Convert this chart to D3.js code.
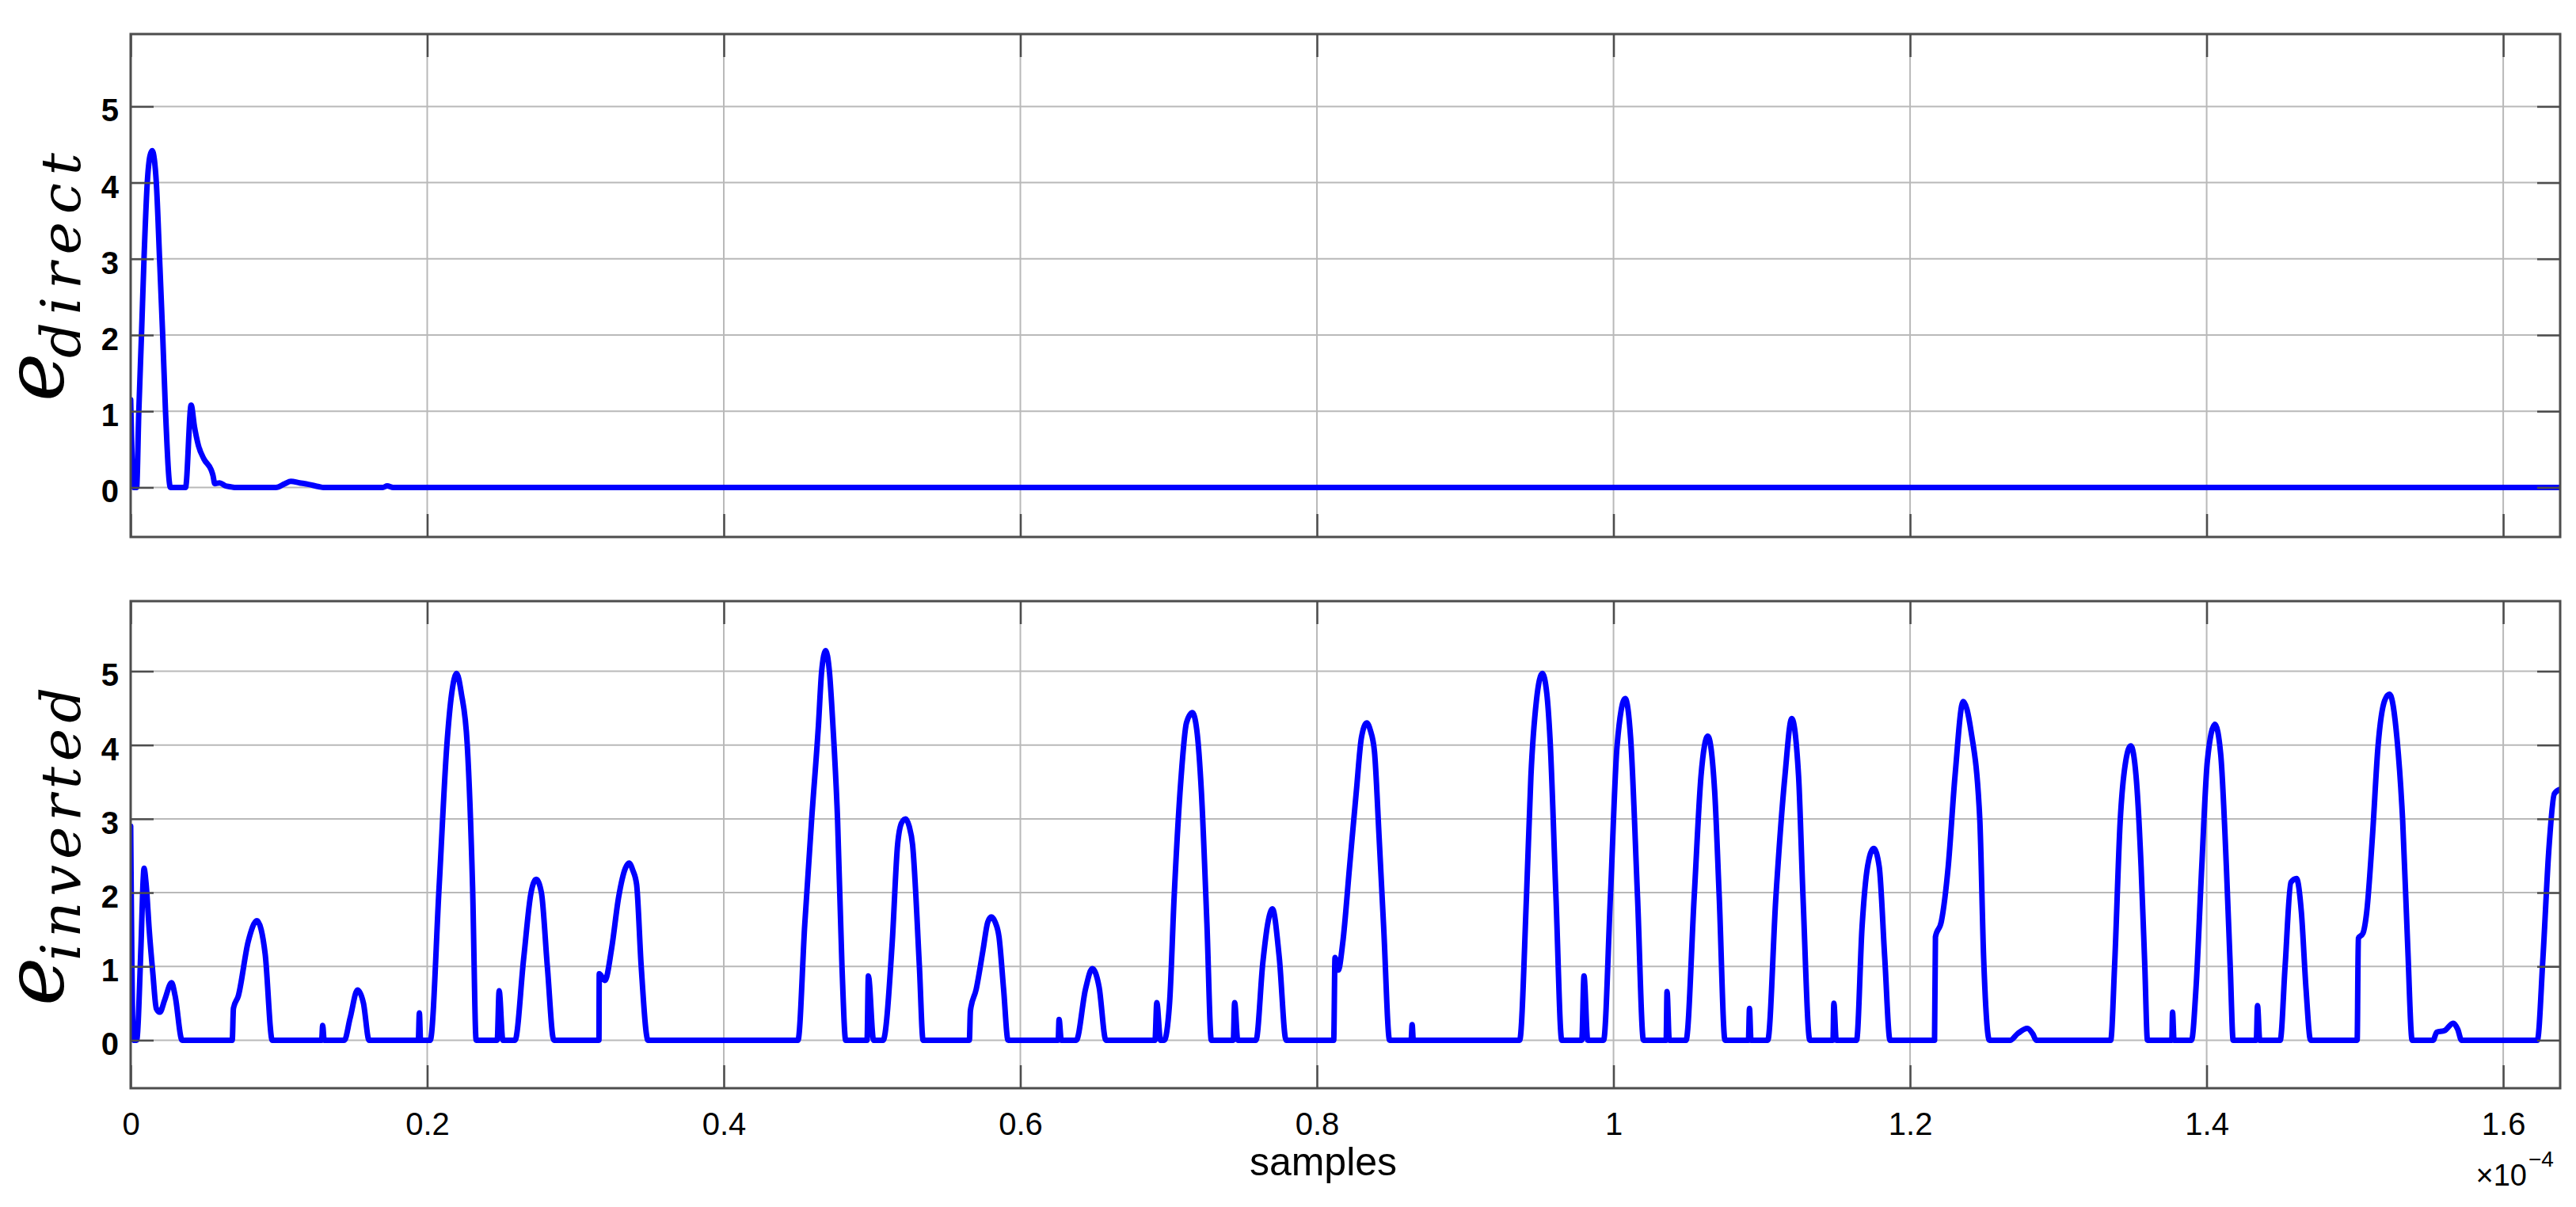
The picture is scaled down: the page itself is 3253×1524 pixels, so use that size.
<!DOCTYPE html>
<html>
<head>
<meta charset="utf-8">
<script src="https://cdn.jsdelivr.net/npm/d3@7"></script>
<style>
  html, body { margin: 0; padding: 0; background: #fff; }
  svg { display: block; }
  .tick text { font-family: "Liberation Sans", Arial, sans-serif; fill: #000; }
</style>
</head>
<body>
<div id="container"></div>
<script>
'use strict';

// x in units of 1e-4 samples
var xTicks = [0, 0.2, 0.4, 0.6, 0.8, 1.0, 1.2, 1.4, 1.6];
var xTickLabels = ['0', '0.2', '0.4', '0.6', '0.8', '1', '1.2', '1.4', '1.6'];
var yTicks = [0, 1, 2, 3, 4, 5];
var yTickLabels = ['0', '1', '2', '3', '4', '5'];

var directX = [0, 0.002, 0.004, 0.0055, 0.0073, 0.009, 0.0112, 0.013, 0.0145, 0.016, 0.0173, 0.0195, 0.0216, 0.0235, 0.0268,
  0.037, 0.0408, 0.043, 0.0457, 0.0495, 0.0543, 0.0555, 0.0567, 0.06, 0.064, 0.067, 0.07,
  0.098, 0.104, 0.108, 0.114, 0.12, 0.127, 0.13, 0.17, 0.173, 0.177, 1.6384];
var directY = [1.15, 0, 0, 1.0, 2.0, 3.0, 4.0, 4.35, 4.42, 4.3, 4.0, 3.0, 2.0, 1.0, 0,
  0, 1.08, 0.8, 0.55, 0.37, 0.23, 0.16, 0.05, 0.06, 0.02, 0.01, 0,
  0, 0.05, 0.08, 0.06, 0.04, 0.01, 0, 0, 0.02, 0, 0];

var invertedX = [0, 0.0018, 0.004, 0.007, 0.0085, 0.009, 0.0105, 0.0125, 0.015, 0.0173, 0.0197, 0.023, 0.0276, 0.03, 0.0347,
  0.0685, 0.0693, 0.0726, 0.0793, 0.0852, 0.088, 0.0907, 0.0955,
  0.1288, 0.1295, 0.1305, 0.1441, 0.148, 0.153, 0.157, 0.1608,
  0.194, 0.1947, 0.1955, 0.202, 0.208, 0.2132, 0.2165, 0.2198, 0.223, 0.227, 0.2306, 0.233,
  0.2472, 0.2485, 0.251, 0.2592, 0.265, 0.27, 0.2735, 0.277, 0.281, 0.2854,
  0.3158, 0.316, 0.3198, 0.3244, 0.329, 0.3336, 0.3361, 0.3387, 0.3412, 0.3443, 0.3489,
  0.45, 0.4546, 0.4592, 0.4638, 0.466, 0.4687, 0.4712, 0.4736, 0.4767, 0.4797, 0.4822,
  0.4966, 0.4975, 0.501, 0.5074, 0.5135, 0.5172, 0.52, 0.5227, 0.525, 0.5273, 0.5319, 0.5344,
  0.5656, 0.5663, 0.5702, 0.5748, 0.578, 0.5804, 0.583, 0.5856, 0.5887, 0.5917,
  0.6255, 0.6261, 0.6276, 0.6377, 0.6439, 0.6485, 0.6531, 0.6577,
  0.6908, 0.692, 0.6945, 0.697, 0.7006, 0.7037, 0.7083, 0.712, 0.716, 0.719, 0.7221, 0.7258, 0.7288,
  0.7436, 0.7445, 0.7466, 0.7589, 0.7635, 0.767, 0.77, 0.7746, 0.7792,
  0.8113, 0.8122, 0.8144, 0.8174, 0.822, 0.8266, 0.83, 0.8336, 0.836, 0.8388, 0.8419, 0.845, 0.849,
  0.8635, 0.8642, 0.865, 0.9367, 0.9413, 0.9443, 0.948, 0.952, 0.955, 0.9572, 0.9612, 0.9651,
  0.9786, 0.9801, 0.9826, 0.9933, 0.9979, 1.0024, 1.0079, 1.0116, 1.0162, 1.0202,
  1.0355, 1.0361, 1.0376, 1.0489, 1.0544, 1.059, 1.0636, 1.0682, 1.0713, 1.0752,
  1.091, 1.0917, 1.0927, 1.104, 1.1095, 1.1156, 1.1202, 1.1248, 1.1278, 1.1324,
  1.148, 1.1486, 1.1502, 1.1639, 1.1676, 1.1713, 1.1755, 1.1792, 1.1829, 1.1865,
  1.2165, 1.2171, 1.2211, 1.2257, 1.2303, 1.2358, 1.241, 1.247, 1.2496, 1.2535,
  1.2675, 1.2726, 1.279, 1.2829, 1.285,
  1.3353, 1.3379, 1.3417, 1.3455, 1.3488, 1.3524, 1.3558, 1.3583, 1.3601,
  1.3765, 1.377, 1.378, 1.3898, 1.3928, 1.3967, 1.4005, 1.4056, 1.4095, 1.4133, 1.4159, 1.4179,
  1.4335, 1.4343, 1.4358, 1.4496, 1.4529, 1.4568, 1.4606, 1.4639, 1.467, 1.4701,
  1.5015, 1.5023, 1.5054, 1.5079, 1.5118, 1.5156, 1.52, 1.5233, 1.5284, 1.5322, 1.5355, 1.5386,
  1.5527, 1.5552, 1.5604, 1.5662, 1.5693, 1.5719,
  1.623, 1.6268, 1.6307, 1.6345, 1.6384];
var invertedY = [2.9, 0, 0, 1.3, 2.2, 2.33, 2.1, 1.5, 0.9, 0.43, 0.38, 0.55, 0.78, 0.6, 0,
  0, 0.43, 0.6, 1.34, 1.62, 1.5, 1.17, 0,
  0, 0.2, 0, 0, 0.3, 0.68, 0.5, 0,
  0, 0.37, 0, 0, 2.07, 3.99, 4.7, 4.97, 4.7, 4.0, 2.07, 0,
  0, 0.67, 0, 0, 1.1, 2.0, 2.18, 2.0, 1.0, 0,
  0, 0.9, 0.81, 1.25, 1.93, 2.33, 2.4, 2.3, 2.11, 1.0, 0,
  0, 1.57, 2.98, 4.26, 5.0, 5.28, 5.0, 4.26, 3.0, 1.0, 0,
  0, 0.87, 0, 0, 1.3, 2.65, 2.95, 3.0, 2.9, 2.65, 1.0, 0,
  0, 0.4, 0.69, 1.22, 1.6, 1.67, 1.6, 1.4, 0.69, 0,
  0, 0.28, 0, 0, 0.69, 0.97, 0.72, 0,
  0, 0.51, 0, 0, 0.5, 1.94, 3.54, 4.3, 4.44, 4.2, 3.36, 1.58, 0,
  0, 0.51, 0, 0, 1.05, 1.6, 1.78, 1.12, 0,
  0, 1.12, 0.95, 1.32, 2.35, 3.38, 4.1, 4.3, 4.2, 3.91, 2.76, 1.53, 0,
  0, 0.21, 0, 0, 1.94, 3.58, 4.6, 4.97, 4.7, 4.08, 1.94, 0,
  0, 0.87, 0, 0, 1.94, 3.99, 4.63, 4.08, 1.94, 0,
  0, 0.66, 0, 0, 1.94, 3.58, 4.12, 3.38, 1.94, 0,
  0, 0.43, 0, 0, 1.94, 3.58, 4.36, 3.58, 1.94, 0,
  0, 0.5, 0, 0, 1.53, 2.35, 2.6, 2.35, 1.12, 0,
  0, 1.4, 1.61, 2.35, 3.58, 4.59, 4.2, 3.0, 1.12, 0,
  0, 0.09, 0.16, 0.08, 0,
  0, 1.0, 2.97, 3.79, 3.99, 3.58, 2.35, 1.0, 0,
  0, 0.38, 0, 0, 0.7, 2.35, 3.79, 4.28, 3.87, 2.35, 1.0, 0,
  0, 0.47, 0, 0, 1.0, 2.14, 2.19, 1.73, 0.7, 0,
  0, 1.38, 1.45, 1.73, 2.76, 3.99, 4.6, 4.69, 4.08, 2.97, 1.32, 0,
  0, 0.11, 0.13, 0.23, 0.15, 0,
  0, 1.12, 2.56, 3.34, 3.4];

var W = 3253, H = 1524;
var xMax = 1.6384;
var yDomain = [-0.65, 5.95];

var svg = d3.select('#container').append('svg')
  .attr('width', W)
  .attr('height', H)
  .style('background', '#fff');

var defs = svg.append('defs');

function drawPanel(id, box, xs, ys, showXLabels) {
  var w = box.right - box.left;
  var h = box.bottom - box.top;

  var x = d3.scaleLinear().domain([0, xMax]).range([0, w]);
  var y = d3.scaleLinear().domain(yDomain).range([h, 0]);

  var g = svg.append('g')
    .attr('transform', 'translate(' + box.left + ',' + box.top + ')');

  defs.append('clipPath').attr('id', 'clip-' + id)
    .append('rect').attr('x', 0).attr('y', -4).attr('width', w).attr('height', h + 8);

  // grid
  g.append('g').selectAll('line.vgrid')
    .data(xTicks)
    .enter().append('line').attr('class', 'vgrid')
      .attr('x1', function(d) { return x(d); })
      .attr('x2', function(d) { return x(d); })
      .attr('y1', 0).attr('y2', h)
      .attr('stroke', '#b9b9b9').attr('stroke-width', 2);

  g.append('g').selectAll('line.hgrid')
    .data(yTicks)
    .enter().append('line').attr('class', 'hgrid')
      .attr('x1', 0).attr('x2', w)
      .attr('y1', function(d) { return y(d); })
      .attr('y2', function(d) { return y(d); })
      .attr('stroke', '#b9b9b9').attr('stroke-width', 2);

  var pts = xs.map(function(v, i) { return [v, ys[i]]; });
  var line = d3.line()
    .curve(d3.curveMonotoneX)
    .x(function(d) { return x(d[0]); })
    .y(function(d) { return y(d[1]); });

  g.append('path')
    .datum(pts)
    .attr('clip-path', 'url(#clip-' + id + ')')
    .attr('d', line)
    .attr('fill', 'none')
    .attr('stroke', '#0000ff')
    .attr('stroke-width', 7)
    .attr('stroke-linejoin', 'round')
    .attr('stroke-linecap', 'round');

  // ticks pointing inward on all four sides
  var tickLen = 29;
  var xFmt = function(d) { return xTickLabels[xTicks.indexOf(d)]; };
  var yFmt = function(d) { return yTickLabels[yTicks.indexOf(d)]; };

  var bottomAxis = g.append('g')
    .attr('transform', 'translate(0,' + h + ')')
    .call(d3.axisBottom(x).tickValues(xTicks).tickSizeInner(-tickLen).tickSizeOuter(0)
      .tickPadding(31).tickFormat(showXLabels ? xFmt : function() { return ''; }));

  g.append('g')
    .call(d3.axisTop(x).tickValues(xTicks).tickSizeInner(-tickLen).tickSizeOuter(0)
      .tickFormat(function() { return ''; }));

  var leftAxis = g.append('g')
    .call(d3.axisLeft(y).tickValues(yTicks).tickSizeInner(-tickLen).tickSizeOuter(0)
      .tickPadding(15).tickFormat(yFmt));

  g.append('g')
    .attr('transform', 'translate(' + w + ',0)')
    .call(d3.axisRight(y).tickValues(yTicks).tickSizeInner(-tickLen).tickSizeOuter(0)
      .tickFormat(function() { return ''; }));

  g.selectAll('.domain').remove();
  g.selectAll('.tick line').attr('stroke', '#4d4d4d').attr('stroke-width', 2.5);

  bottomAxis.selectAll('text').attr('font-size', 40);
  leftAxis.selectAll('text')
    .attr('font-size', 40)
    .attr('font-weight', 'bold')
    .attr('dy', '0.46em');

  g.append('rect')
    .attr('x', 0).attr('y', 0).attr('width', w).attr('height', h)
    .attr('fill', 'none')
    .attr('stroke', '#4d4d4d')
    .attr('stroke-width', 3);
}

function yTitle(sub, eBase, subStart, subLen) {
  svg.append('text')
    .attr('transform', 'translate(80,' + eBase + ') rotate(-90)')
    .attr('font-family', '"DejaVu Serif", serif')
    .attr('font-style', 'italic')
    .attr('font-size', 104)
    .text('e');
  svg.append('text')
    .attr('transform', 'translate(101,' + subStart + ') rotate(-90)')
    .attr('font-family', '"DejaVu Serif", serif')
    .attr('font-style', 'italic')
    .attr('font-size', 70)
    .attr('textLength', subLen)
    .attr('lengthAdjust', 'spacing')
    .text(sub);
}

drawPanel('direct', {left: 165, right: 3233, top: 43, bottom: 678}, directX, directY, false);
drawPanel('inverted', {left: 165, right: 3233, top: 759, bottom: 1374}, invertedX, invertedY, true);

yTitle('direct', 507, 452, 259);
yTitle('inverted', 1270, 1213, 345);

svg.append('text')
  .attr('x', 1671).attr('y', 1484)
  .attr('text-anchor', 'middle')
  .attr('font-family', '"Liberation Sans", Arial, sans-serif')
  .attr('font-size', 50)
  .text('samples');

// exponent label under the right end of the x axis
svg.append('text')
  .attr('x', 3191).attr('y', 1497)
  .attr('text-anchor', 'end')
  .attr('font-family', '"Liberation Sans", Arial, sans-serif')
  .attr('font-size', 38)
  .text('\u00d710');
svg.append('text')
  .attr('x', 3193).attr('y', 1473)
  .attr('font-family', '"Liberation Sans", Arial, sans-serif')
  .attr('font-size', 28)
  .text('\u22124');
</script>
</body>
</html>
